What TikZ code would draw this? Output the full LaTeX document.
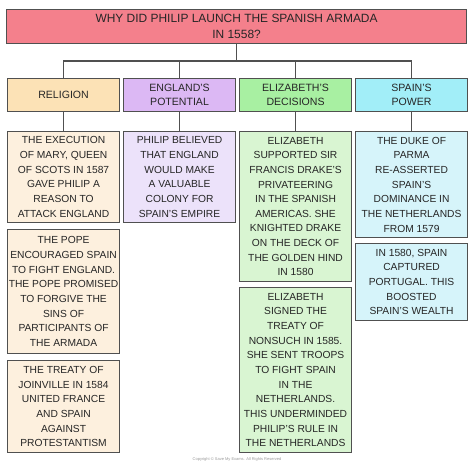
\documentclass[tikz,border=0pt]{standalone}
\usepackage{fontspec}
\setmainfont{Liberation Sans}
\definecolor{bordc}{HTML}{505050}
\definecolor{titlec}{HTML}{F4808C}
\definecolor{relc}{HTML}{FCE2B6}
\definecolor{relL}{HTML}{FDF0DE}
\definecolor{engc}{HTML}{DCB8F4}
\definecolor{engL}{HTML}{ECE2FA}
\definecolor{elic}{HTML}{A8F0A2}
\definecolor{eliL}{HTML}{D9F5D2}
\definecolor{spac}{HTML}{A2EEF8}
\definecolor{spaL}{HTML}{D6F4FA}
\tikzset{
  x=1bp, y=-1bp,
  boxbase/.style={draw=bordc, line width=1.1bp, anchor=north west, inner sep=0pt,
    align=center, minimum width=112bp,
    font=\fontsize{10.3}{14.7}\selectfont, text=black!85},
  catbox/.style={boxbase, minimum height=33bp, font=\fontsize{10.6}{14}\selectfont},
  detbox/.style={boxbase},
  link/.style={draw=bordc, line width=1.1bp}
}
\begin{document}
\begin{tikzpicture}
\useasboundingbox (0,0) rectangle (474,468);
\node[boxbase, fill=titlec, minimum width=460bp, minimum height=34bp,
  font=\fontsize{12}{16}\selectfont] (title) at (6,9)
  {WHY DID PHILIP LAUNCH THE SPANISH ARMADA\\IN 1558?};
\node[catbox, fill=relc] (c1) at (7,78) {RELIGION};
\node[catbox, fill=engc] (c2) at (123,78) {ENGLAND'S\\POTENTIAL};
\node[catbox, fill=elic] (c3) at (239,78) {ELIZABETH'S\\DECISIONS};
\node[catbox, fill=spac] (c4) at (355,78) {SPAIN'S\\POWER};
% details
\node[detbox, fill=relL, minimum height=91bp] (r1) at (7,131)
  {THE EXECUTION\\OF MARY, QUEEN\\OF SCOTS IN 1587\\GAVE PHILIP A\\REASON TO\\ATTACK ENGLAND};
\node[detbox, fill=relL, minimum height=124bp] (r2) at (7,229)
  {THE POPE\\ENCOURAGED SPAIN\\TO FIGHT ENGLAND.\\THE POPE PROMISED\\TO FORGIVE THE\\SINS OF\\PARTICIPANTS OF\\THE ARMADA};
\node[detbox, fill=relL, minimum height=92bp] (r3) at (7,360)
  {THE TREATY OF\\JOINVILLE IN 1584\\UNITED FRANCE\\AND SPAIN\\AGAINST\\PROTESTANTISM};
\node[detbox, fill=engL, minimum height=91bp] (e1) at (123,131)
  {PHILIP BELIEVED\\THAT ENGLAND\\WOULD MAKE\\A VALUABLE\\COLONY FOR\\SPAIN'S EMPIRE};
\node[detbox, fill=eliL, minimum height=150bp] (d1) at (239,131)
  {ELIZABETH\\SUPPORTED SIR\\FRANCIS DRAKE'S\\PRIVATEERING\\IN THE SPANISH\\AMERICAS. SHE\\KNIGHTED DRAKE\\ON THE DECK OF\\THE GOLDEN HIND\\IN 1580};
\node[detbox, fill=eliL, minimum height=165bp] (d2) at (239,287)
  {ELIZABETH\\SIGNED THE\\TREATY OF\\NONSUCH IN 1585.\\SHE SENT TROOPS\\TO FIGHT SPAIN\\IN THE\\NETHERLANDS.\\THIS UNDERMINDED\\PHILIP'S RULE IN\\THE NETHERLANDS};
\node[detbox, fill=spaL, minimum height=106bp] (s1) at (355,131)
  {THE DUKE OF\\PARMA\\RE-ASSERTED\\SPAIN'S\\DOMINANCE IN\\THE NETHERLANDS\\FROM 1579};
\node[detbox, fill=spaL, minimum height=77bp] (s2) at (355,243)
  {IN 1580, SPAIN\\CAPTURED\\PORTUGAL. THIS\\BOOSTED\\SPAIN'S WEALTH};
% connectors
\coordinate (j) at (237,61);
\draw[link] (title.south) -- (title.south |- j);
\draw[link] (c1.north) -- (c1.north |- j) -- (c4.north |- j) -- (c4.north);
\draw[link] (c2.north) -- (c2.north |- j);
\draw[link] (c3.north) -- (c3.north |- j);
\draw[link] (c1.south) -- (r1.north);
\draw[link] (c2.south) -- (e1.north);
\draw[link] (c3.south) -- (d1.north);
\draw[link] (c4.south) -- (s1.north);
\node[font=\fontsize{4}{5}\selectfont, text=black!40, inner sep=0pt] (copy) at (237,459)
  {Copyright © Save My Exams. All Rights Reserved};
\end{tikzpicture}
\end{document}
